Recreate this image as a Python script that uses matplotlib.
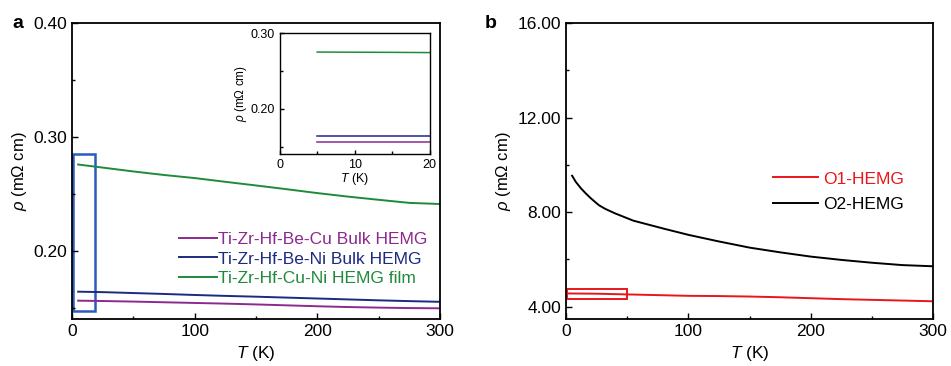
import matplotlib
matplotlib.use("Agg")
import matplotlib.pyplot as plt
from matplotlib.patches import Rectangle
from matplotlib.ticker import MultipleLocator, FormatStrFormatter

plt.rcParams['font.family'] = ['Liberation Sans', 'DejaVu Sans']
plt.rcParams['mathtext.fontset'] = 'custom'
plt.rcParams['mathtext.it'] = 'Liberation Sans:italic'
plt.rcParams['mathtext.rm'] = 'Liberation Sans'

# ---- Panel a data ----
T_a = [5, 25, 50, 75, 100, 125, 150, 175, 200, 225, 250, 275, 300]
rho_cu = [0.1561, 0.1558, 0.1553, 0.1547, 0.1541, 0.1535, 0.1528, 0.1520, 0.1512, 0.1505, 0.1500, 0.1496, 0.1494]
rho_ni = [0.1640, 0.1636, 0.1628, 0.1620, 0.1611, 0.1603, 0.1596, 0.1588, 0.1580, 0.1572, 0.1564, 0.1557, 0.1551]
rho_film = [0.2757, 0.2730, 0.2696, 0.2665, 0.2638, 0.2605, 0.2573, 0.2540, 0.2506, 0.2475, 0.2447, 0.2420, 0.2410]
labels_a = ['Ti-Zr-Hf-Be-Cu Bulk HEMG', 'Ti-Zr-Hf-Be-Ni Bulk HEMG', 'Ti-Zr-Hf-Cu-Ni HEMG film']
colors_a = ['#8b2a8e', '#1c2a80', '#1f8a3c']

# inset (low-T zoom)
T_in = [5, 10, 15, 20]
rho_cu_in = [0.1560, 0.1560, 0.1560, 0.1560]
rho_ni_in = [0.1640, 0.1640, 0.1640, 0.1640]
rho_film_in = [0.2752, 0.2750, 0.2748, 0.2745]

# ---- Panel b data ----
T_o2 = [5, 8, 12, 16, 20, 24, 27, 32, 40, 55, 80, 100, 125, 150, 175, 200, 225, 250, 275, 300]
rho_o2 = [9.54, 9.28, 9.02, 8.80, 8.60, 8.42, 8.29, 8.14, 7.95, 7.64, 7.30, 7.04, 6.76, 6.50, 6.30, 6.12, 5.98, 5.86, 5.76, 5.71]
T_o1 = [2, 25, 50, 75, 100, 125, 150, 175, 200, 225, 250, 275, 300]
rho_o1 = [4.56, 4.55, 4.52, 4.49, 4.46, 4.45, 4.43, 4.40, 4.36, 4.32, 4.29, 4.26, 4.23]
labels_b = ['O1-HEMG', 'O2-HEMG']
colors_b = ['#e8161b', '#000000']

fig = plt.figure(figsize=(9.51, 3.66), dpi=100)

def style(ax, fs=12.5, major=4, minor=2.5):
    ax.tick_params(which='both', direction='in', top=False, right=False, labelsize=fs)
    ax.tick_params(which='major', length=major, width=1)
    ax.tick_params(which='minor', length=minor, width=1)
    for s in ax.spines.values():
        s.set_linewidth(1.3)

# Panel a
ax1 = fig.add_axes([72/951, 47/366, 368/951, 296/366])
for y, lab, c in zip([rho_cu, rho_ni, rho_film], labels_a, colors_a):
    ax1.plot(T_a, y, color=c, lw=1.4, label=lab)
ax1.set_xlim(0, 300)
ax1.set_ylim(0.14, 0.40)
ax1.xaxis.set_major_locator(MultipleLocator(100))
ax1.xaxis.set_minor_locator(MultipleLocator(50))
ax1.yaxis.set_major_locator(MultipleLocator(0.1))
ax1.yaxis.set_minor_locator(MultipleLocator(0.05))
ax1.yaxis.set_major_formatter(FormatStrFormatter('%.2f'))
style(ax1)
ax1.add_patch(Rectangle((1, 0.1468), 18, 0.1377, fill=False, edgecolor='#2a5bbf', lw=1.8))
ax1.set_xlabel(r'$T$ (K)', fontsize=12.5, labelpad=4)
ax1.set_ylabel(r'$\rho$ (mΩ cm)', fontsize=12, labelpad=3)
leg = ax1.legend(loc='lower right', bbox_to_anchor=(0.985, 0.088), frameon=False, fontsize=12.5,
                 handlelength=2.2, handletextpad=0.05, labelspacing=0.25, borderaxespad=0)
for t, c in zip(leg.get_texts(), colors_a):
    t.set_color(c)
fig.text(12/951, 1 - 24/366, 'a', fontsize=14, fontweight='bold', va='center', ha='left')

# Inset
axi = fig.add_axes([279.7/951, (366-154.3)/366, 150/951, 121/366])
for y, c in zip([rho_cu_in, rho_ni_in, rho_film_in], colors_a):
    axi.plot(T_in, y, color=c, lw=1.1)
axi.set_xlim(0, 20)
axi.set_ylim(0.14, 0.30)
axi.xaxis.set_major_locator(MultipleLocator(10))
axi.xaxis.set_minor_locator(MultipleLocator(5))
axi.yaxis.set_major_locator(MultipleLocator(0.1))
axi.yaxis.set_minor_locator(MultipleLocator(0.05))
axi.yaxis.set_major_formatter(FormatStrFormatter('%.2f'))
style(axi, fs=9, major=3, minor=2)
for s in axi.spines.values():
    s.set_linewidth(1.0)
axi.set_xlabel(r'$T$ (K)', fontsize=9, labelpad=0)
axi.set_ylabel(r'$\rho$ (mΩ cm)', fontsize=8.5, labelpad=1)

# Panel b
ax2 = fig.add_axes([566/951, 47/366, 367/951, 296/366])
ax2.plot(T_o1, rho_o1, color=colors_b[0], lw=1.4, label=labels_b[0])
ax2.plot(T_o2, rho_o2, color=colors_b[1], lw=1.4, label=labels_b[1])
ax2.set_xlim(0, 300)
ax2.set_ylim(3.48, 16.0)
ax2.xaxis.set_major_locator(MultipleLocator(100))
ax2.xaxis.set_minor_locator(MultipleLocator(50))
ax2.yaxis.set_major_locator(MultipleLocator(4))
ax2.yaxis.set_minor_locator(MultipleLocator(2))
ax2.yaxis.set_major_formatter(FormatStrFormatter('%.2f'))
style(ax2)
ax2.add_patch(Rectangle((1, 4.33), 49, 0.41, fill=False, edgecolor='#e8161b', lw=1.4))
ax2.set_xlabel(r'$T$ (K)', fontsize=12.5, labelpad=4)
ax2.set_ylabel(r'$\rho$ (mΩ cm)', fontsize=12, labelpad=3)
leg2 = ax2.legend(loc='center left', bbox_to_anchor=(0.545, 0.43), frameon=False, fontsize=12.5,
                  handlelength=2.6, handletextpad=0.3, labelspacing=0.6, borderaxespad=0)
for t, c in zip(leg2.get_texts(), colors_b):
    t.set_color(c)
fig.text(485/951, 1 - 24/366, 'b', fontsize=14, fontweight='bold', va='center', ha='left')

fig.savefig('out.png', dpi=100)
